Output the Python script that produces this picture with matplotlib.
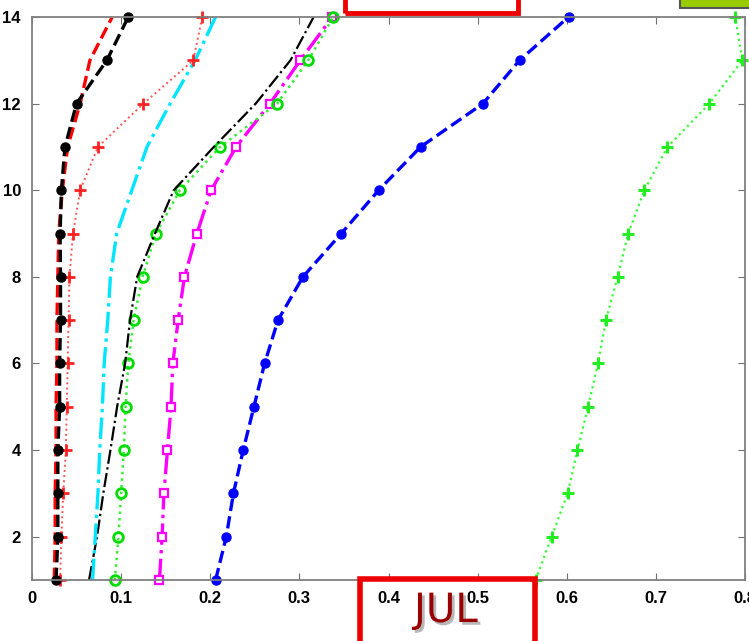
import numpy as np
import matplotlib
matplotlib.use('Agg')
import matplotlib.pyplot as plt
from matplotlib.patches import Rectangle
import matplotlib.patheffects as pe

depth = np.arange(1, 15)

# values, bottom (1) to top (14)
red_dash = [0.025, 0.026, 0.026, 0.027, 0.027, 0.028, 0.028, 0.029, 0.030, 0.034, 0.040, 0.054, 0.065, 0.090]
black_dash = [0.027, 0.029, 0.029, 0.029, 0.031, 0.031, 0.032, 0.032, 0.0315, 0.033, 0.037, 0.050, 0.084, 0.108]
red_plus = [0.0315, 0.033, 0.035, 0.038, 0.039, 0.040, 0.041, 0.042, 0.046, 0.054, 0.074, 0.125, 0.181, 0.191]
cyan_dd = [0.068, 0.071, 0.074, 0.076, 0.079, 0.081, 0.085, 0.088, 0.095, 0.112, 0.129, 0.155, 0.183, 0.206]
black_dd = [0.064, 0.073, 0.080, 0.088, 0.0955, 0.1045, 0.110, 0.118, 0.138, 0.159, 0.204, 0.251, 0.290, 0.316]
green_o = [0.093, 0.097, 0.100, 0.103, 0.105, 0.108, 0.114, 0.124, 0.139, 0.166, 0.211, 0.275, 0.310, 0.338]
mag_sq = [0.143, 0.146, 0.148, 0.152, 0.156, 0.158, 0.164, 0.171, 0.185, 0.201, 0.229, 0.267, 0.301, 0.337]
blue_dash = [0.206, 0.218, 0.226, 0.237, 0.249, 0.261, 0.276, 0.304, 0.347, 0.389, 0.436, 0.506, 0.547, 0.602]
lime_plus = [0.565, 0.583, 0.601, 0.612, 0.624, 0.635, 0.644, 0.657, 0.669, 0.687, 0.713, 0.760, 0.797, 0.789]

xticks = [0, 0.1, 0.2, 0.3, 0.4, 0.5, 0.6, 0.7, 0.8]
xticklabels = ['0', '0.1', '0.2', '0.3', '0.4', '0.5', '0.6', '0.7', '0.8']
yticks = [2, 4, 6, 8, 10, 12, 14]

fig = plt.figure(figsize=(7.49, 6.41), dpi=100)
ax = fig.add_axes([32/749, 61/641, 713/749, 563/641])

ax.plot(lime_plus, depth, ':', color='#33ff33', lw=1.6, marker='+', ms=8, mew=2.2, mec='#22ee22', clip_on=False)
ax.plot(blue_dash, depth, '--', color='#0000ff', lw=2.4, marker='o', ms=6.5, mfc='#0000ff', mec='#0000ff', clip_on=False)
ax.plot(mag_sq, depth, '-.', color='#ff00ff', lw=2.4, marker='s', ms=6, mfc='white', mec='#ff00ff', mew=1.6, clip_on=False)
ax.plot(green_o, depth, ':', color='#33ee33', lw=1.8, marker='o', ms=7, mfc='none', mec='#00dd00', mew=2, clip_on=False)
ax.plot(black_dd, depth, '-.', color='black', lw=1.6)
ax.plot(cyan_dd, depth, '-.', color='#00e5ff', lw=2.4)
ax.plot(red_plus, depth, ':', color='#ff5555', lw=1.4, marker='+', ms=8, mew=2, mec='#ff2222', clip_on=False)
ax.plot(red_dash, depth, '--', color='#ff0000', lw=2.4)
ax.plot(black_dash, depth, '--', color='black', lw=2.4, marker='o', ms=6.5, mfc='black', mec='black', clip_on=False)

ax.set_xlim(0, 0.8)
ax.set_ylim(1, 14)
ax.set_xticks(xticks)
ax.set_xticklabels(xticklabels)
ax.set_yticks(yticks)
ax.tick_params(direction='in', top=True, right=True, length=5, color='#707070',
               labelsize=12, pad=8)
for lab in ax.get_xticklabels() + ax.get_yticklabels():
    lab.set_fontweight('bold')
    lab.set_family(['Liberation Sans', 'DejaVu Sans'])
for sp in ax.spines.values():
    sp.set_color('#808080')
    sp.set_linewidth(1.3)

# overlay boxes from the slide
fig.patches.append(Rectangle((345/749, 1 - 13/641), 173/749, 30/641, transform=fig.transFigure,
                             fill=False, ec='#ee0000', lw=3.5, clip_on=False))
fig.patches.append(Rectangle((680/749, 1 - 8/641), 80/749, 20/641, transform=fig.transFigure,
                             fc='#99cc00', ec='#555555', lw=1.5, clip_on=False))
fig.patches.append(Rectangle((360/749, -30/641), 175/749, (641 - 579 + 30)/641, transform=fig.transFigure,
                             fill=False, ec='#ee0000', lw=4, clip_on=False))
fig.text(446/749, 1 - 611/641, 'JUL', ha='center', va='center', fontsize=29,
         color='#990000', family=['Liberation Sans Narrow', 'DejaVu Sans'],
         path_effects=[pe.withSimplePatchShadow(offset=(2, -2), shadow_rgbFace='#888888', alpha=0.6)])

fig.savefig('out.png', dpi=100)
